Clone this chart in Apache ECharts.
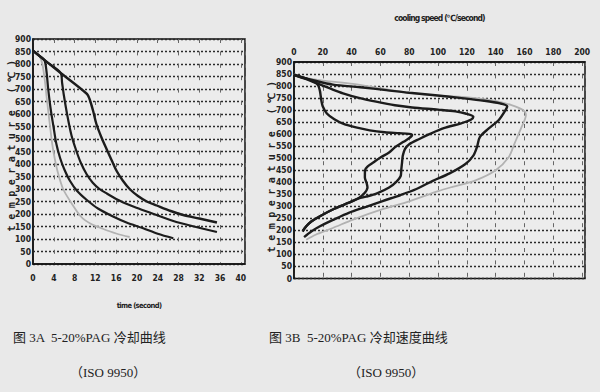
<!DOCTYPE html>
<html><head><meta charset="utf-8">
<script src="https://cdn.jsdelivr.net/npm/echarts@6/dist/echarts.min.js"></script>
<style>html,body{margin:0;padding:0;background:#e9e9e9}#c{width:600px;height:392px}</style>
</head><body><div id="c"></div>
<script>
// ---- Figure 3A: cooling curves, [time (s), temperature (°C)] ----
const timeTicks = [0,4,8,12,16,20,24,28,32,36,40];
const tempTicks = [0,50,100,150,200,250,300,350,400,450,500,550,600,650,700,750,800,850,900];
const coolSlow = [[0,853],[5.2,766],[10.4,680],[10.9,659],[11.6,610],[12.2,560],[13.2,505],[14.2,458],[15.2,412],[16.1,372],[17.3,333],[18.6,300],[20.2,272],[21.9,250],[23.8,234],[26.5,212],[28.9,196],[32,182],[35.4,166]];
const coolMid = [[0,853],[2.5,811],[5.3,765],[5.6,725],[5.9,680],[6.6,595],[7.4,515],[8.3,455],[9.2,405],[10.3,360],[11.5,325],[12.8,300],[14.2,282],[16.8,252],[19.9,225],[23.5,198],[27,172],[31,150],[35.4,128]];
const coolFast = [[0,853],[1.2,833],[2.2,815],[2.6,770],[2.9,705],[3.4,620],[3.9,555],[4.5,480],[5.2,425],[6,380],[7.1,333],[8.5,292],[10.3,257],[12.5,222],[15.4,190],[18,166],[21.2,143],[24,121],[27,103]];
const coolGray = [[0,851],[0.6,847],[1.1,838],[1.6,815],[1.9,790],[2.3,730],[2.6,672],[3.2,565],[3.7,480],[4.2,420],[4.8,365],[5.8,300],[7.2,250],[9.3,188],[11.2,160],[13.3,142],[16,122],[18.6,108]];

// ---- Figure 3B: cooling rate curves, [speed (°C/s), temperature (°C)] ----
const speedTicks = [0,20,40,60,80,100,120,140,160,180,200];
const rateGray = [[0,850],[4,838],[20,823],[41,809],[64,787],[82,771],[96,762],[119,754],[137,741],[151,721],[159,700],[161,680],[158,630],[153,560],[149,504],[140,450],[126,408],[110,381],[100,363],[80,321],[61,287],[41,245],[27,210],[15,182],[8.5,161]];
const rateD = [[0,848],[6,836],[14,823],[27,806],[46,795],[64,783],[80,772],[98,762],[115,751],[132,739],[143,728],[148,716],[147,702],[142,658],[135,623],[129,588],[127,546],[124.5,511],[119,476],[108,437],[96,405],[85,372],[74,347],[61,321],[50,298],[38,273],[28,246],[18,217],[12,195],[7,172]];
const rateE = [[0,846],[7,832],[16,811],[25,790],[34,770],[45,751],[57,735],[70,720],[82,711],[100,702],[112,695],[119,686],[124.5,672],[123,661],[116,645],[104,625],[94,600],[87,580],[80,558],[77,538],[75.5,510],[75,482],[74.5,455],[74,425],[71,402],[66,378],[58,355],[50,340],[45,333],[38,315],[28,290],[18,259],[12,237],[8.5,217],[6,195]];
const rateC = [[0,846],[10,828],[15,815],[17,800],[18,780],[18.5,760],[19,740],[20,715],[22.8,686],[28,662],[34,644],[43,628],[52.6,616],[63,608],[73,604],[80,601],[82,597],[81,588],[76,568],[70,545],[66,524],[60,503],[55,482],[51,465],[49.3,450],[49.2,420],[50.5,395],[51,378],[49,355],[45,335],[38,315],[28,290],[18,259],[12,237],[8.5,217],[6,198]];

const leftTitle = '图 3A  5-20%PAG 冷却曲线';
const rightTitle = '图 3B  5-20%PAG 冷却速度曲线';
const isoText = '（ISO 9950）';
const yName = 'temperature (℃)';
const xNameLeft = 'time (second)';
const xNameRight = 'cooling speed (℃/second)';

const DARK = '#1c1c1c', GRAY = '#b2b2b2';
const NARROW = "'Liberation Sans Narrow','DejaVu Sans Condensed','DejaVu Sans',sans-serif";
const tickFont = {fontFamily:NARROW, fontWeight:'bold', fontSize:8.5, color:'#222'};
const hSplit = {show:true, lineStyle:{color:'#2a2a2a', width:1.3, type:[2,2]}};
const vSplit = {show:true, lineStyle:{color:'#666', width:1, type:[4,8.4]}};
const boxLine = {show:true, onZero:false, lineStyle:{color:'#111', width:1.5}};
const yNameStyle = {fontFamily:"'DejaVu Sans Mono',monospace", fontWeight:'bold', fontSize:10, color:'#222'};

function line(data, color, idx, w){
  return {type:'line', xAxisIndex:idx, yAxisIndex:idx, data:data, showSymbol:false, smooth:0.3,
    lineStyle:{color:color, width:w}, z: color===GRAY?2:3, silent:true, animation:false};
}

const chart = echarts.init(document.getElementById('c'), null, {renderer:'svg'});
chart.setOption({
  backgroundColor:'#e9e9e9',
  animation:false,
  grid:[
    {left:33, top:39, width:212, height:225, show:true, backgroundColor:'#ececec', borderColor:'#111', borderWidth:1.5},
    {left:294, top:62, width:291, height:216.5, show:true, backgroundColor:'#ececec', borderColor:'#111', borderWidth:1.5}
  ],
  xAxis:[
    {gridIndex:0, type:'value', min:0, max:40.8, interval:4, axisLine:boxLine, axisTick:{show:false},
     axisLabel:Object.assign({margin:9, formatter:v=>timeTicks.includes(v)?String(v):''}, tickFont),
     splitLine:vSplit, name:xNameLeft, nameLocation:'middle', nameGap:37, nameMoveOverlap:false,
     nameTextStyle:{fontFamily:NARROW, fontWeight:'bold', fontSize:7.5, color:'#222'}},
    {gridIndex:1, type:'value', position:'top', min:0, max:202, interval:20, axisLine:boxLine, axisTick:{show:false},
     axisLabel:Object.assign({margin:6, formatter:v=>speedTicks.includes(v)?String(v):''}, tickFont),
     splitLine:vSplit, name:xNameRight, nameLocation:'middle', nameGap:40, nameMoveOverlap:false,
     nameTextStyle:{fontFamily:NARROW, fontWeight:'bold', fontSize:8.5, color:'#222'}}
  ],
  yAxis:[
    {gridIndex:0, type:'value', min:0, max:900, interval:50, axisLine:boxLine, axisTick:{show:false},
     axisLabel:Object.assign({margin:2, formatter:v=>tempTicks.includes(v)?String(v):''}, tickFont),
     splitLine:hSplit, name:yName, nameLocation:'middle', nameRotate:90, nameGap:17, nameMoveOverlap:false,
     nameTextStyle:yNameStyle},
    {gridIndex:1, type:'value', min:0, max:900, interval:50, axisLine:boxLine, axisTick:{show:false},
     axisLabel:Object.assign({margin:2, formatter:v=>tempTicks.includes(v)?String(v):''}, tickFont),
     splitLine:hSplit, name:yName, nameLocation:'middle', nameRotate:90, nameGap:17, nameMoveOverlap:false,
     nameTextStyle:yNameStyle}
  ],
  series:[
    line(coolGray, GRAY, 0, 1.8),
    line(coolFast, DARK, 0, 2.2),
    line(coolMid, DARK, 0, 2.2),
    line(coolSlow, DARK, 0, 2.4),
    line(rateGray, GRAY, 1, 1.8),
    line(rateD, DARK, 1, 2.4),
    line(rateE, DARK, 1, 2.4),
    line(rateC, DARK, 1, 2.4)
  ],
  graphic:[
    {type:'text', left:13, top:331, style:{text:leftTitle, font:"13px 'Liberation Serif','Noto Sans CJK SC',serif", fill:'#222'}},
    {type:'text', left:70, top:366, style:{text:isoText, font:"13px 'Liberation Serif','Noto Sans CJK SC',serif", fill:'#222'}},
    {type:'text', left:269, top:331, style:{text:rightTitle, font:"13px 'Liberation Serif','Noto Sans CJK SC',serif", fill:'#222'}},
    {type:'text', left:348, top:366, style:{text:isoText, font:"13px 'Liberation Serif','Noto Sans CJK SC',serif", fill:'#222'}}
  ]
});

// letter spacing of the axis titles, as in the scanned original, then re-centre them
const spacing = {};
spacing[yName] = '5.5px';
spacing[xNameLeft] = '-0.6px';
spacing[xNameRight] = '-0.9px';
function spaceTitles(){
  document.querySelectorAll('#c text').forEach(t=>{
    const s = spacing[t.textContent];
    if (!s) return;
    t.style.letterSpacing = s;
    if (t.textContent === yName) {
      t.style.translate = '';
      const r = t.getBoundingClientRect();
      const left = r.left < 150;
      const cx = left ? 11 : 271, cy = left ? 143 : 164;
      t.style.translate = (cx - (r.left + r.width/2)) + 'px ' + (cy - (r.top + r.height/2)) + 'px';
    }
  });
}
spaceTitles();
chart.on('finished', spaceTitles);
</script></body></html>
